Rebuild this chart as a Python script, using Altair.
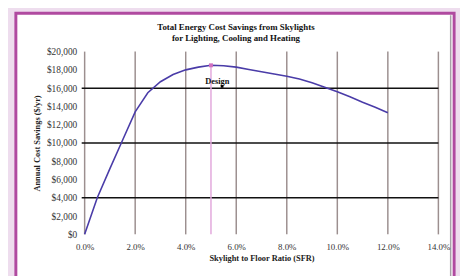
import altair as alt
import pandas as pd

# ---- data ----
sfr = [0.0, 0.005, 0.01, 0.015, 0.02, 0.025, 0.03, 0.035, 0.04, 0.045, 0.05,
       0.055, 0.06, 0.065, 0.07, 0.075, 0.08, 0.085, 0.09, 0.095, 0.10,
       0.105, 0.11, 0.115, 0.12]
savings = [0, 4000, 7200, 10300, 13400, 15500, 16700, 17500, 18000, 18300, 18500,
           18450, 18300, 18050, 17800, 17550, 17300, 17000, 16600, 16100, 15600,
           15050, 14450, 13900, 13300]
x_ticks = [0.0, 0.02, 0.04, 0.06, 0.08, 0.10, 0.12, 0.14]
y_ticks = [0, 2000, 4000, 6000, 8000, 10000, 12000, 14000, 16000, 18000, 20000]
major_y = [4000, 10000, 16000]
design_x = [0.05]
design_y = [18500]
label_text = ["Design"]
label_x = [0.0525]
label_y = [16800]
marker_x = [0.0544]
marker_y = [16200]
title_lines = ["Total Energy Cost Savings from Skylights",
               "for Lighting, Cooling and Heating"]
x_title = "Skylight to Floor Ratio (SFR)"
y_title = "Annual Cost Savings ($/yr)"

W, H = 360, 186
SERIF = "Liberation Serif"

curve = pd.DataFrame({"x": sfr, "y": savings})
xg = pd.DataFrame({"x": x_ticks})
yg = pd.DataFrame({"y": major_y})
des = pd.DataFrame({"x": design_x, "y": design_y})
lab = pd.DataFrame({"x": label_x, "y": label_y, "t": label_text})
mk = pd.DataFrame({"x": marker_x, "y": marker_y})
one = pd.DataFrame({"a": [0]})
t1 = pd.DataFrame({"t": [title_lines[0]]})
t2 = pd.DataFrame({"t": [title_lines[1]]})

xscale = alt.Scale(domain=[0, 0.14], nice=False, zero=False)
yscale = alt.Scale(domain=[0, 20000], nice=False)

xaxis = alt.Axis(values=x_ticks, format=".1%", grid=False, domain=False, ticks=False,
                 labelFont=SERIF, labelFontSize=9, labelColor="#333333", labelPadding=8,
                 labelOverlap=False, labelFlush=False,
                 title=x_title, titleFont=SERIF, titleFontSize=8.5, titleFontWeight="bold",
                 titleColor="#222222", titlePadding=3, zindex=1)
yaxis = alt.Axis(values=y_ticks, format="$,.0f", grid=False, domain=False, ticks=False,
                 labelFont=SERIF, labelFontSize=9.5, labelColor="#333333", labelPadding=8,
                 labelOverlap=False, labelFlush=False,
                 title=y_title, titleFont=SERIF, titleFontSize=8.5, titleFontWeight="bold",
                 titleColor="#222222", titlePadding=5, zindex=1)


def X(field="x:Q"):
    return alt.X(field, scale=xscale, axis=xaxis)


def Y(field="y:Q"):
    return alt.Y(field, scale=yscale, axis=yaxis)


panel = alt.Chart(one).mark_rect(fill="white", stroke="#B04AA0", strokeWidth=3).encode(
    x=alt.value(-70), x2=alt.value(376), y=alt.value(-39), y2=alt.value(240))
shadow = alt.Chart(one).mark_rule(color="#A8A0A8", strokeWidth=1.5).encode(
    x=alt.value(372.5), y=alt.value(-37), y2=alt.value(240))

title1 = alt.Chart(t1).mark_text(font=SERIF, fontSize=9, fontWeight="bold", color="#111111").encode(
    x=alt.value(154), y=alt.value(-25), text="t:N")
title2 = alt.Chart(t2).mark_text(font=SERIF, fontSize=9, fontWeight="bold", color="#111111").encode(
    x=alt.value(154), y=alt.value(-14), text="t:N")

xgrid = alt.Chart(xg).mark_rule(color="#9C8F8F", strokeWidth=1.5).encode(
    x=X(), y=alt.value(0), y2=alt.value(H))
ygrid = alt.Chart(yg).mark_rule(color="#111111", strokeWidth=1.5).encode(
    y=Y(), x=alt.value(-3), x2=alt.value(W))
pink = alt.Chart(des).mark_rule(color="#E2A8DC", strokeWidth=1.5).encode(
    x=X(), y=Y(), y2=alt.value(H))
line = alt.Chart(curve).mark_line(color="#4A3CA8", strokeWidth=1.6).encode(
    x=X(), y=Y())
pt = alt.Chart(des).mark_point(shape="square", filled=True, color="#D070C0", size=16, opacity=1).encode(
    x=X(), y=Y())
marker = alt.Chart(mk).mark_point(shape="square", filled=True, color="black", size=8, opacity=1).encode(
    x=X(), y=Y())
text = alt.Chart(lab).mark_text(font=SERIF, fontSize=8.5, fontWeight="bold", color="#111111").encode(
    x=X(), y=Y(), text="t:N")

chart = alt.layer(panel, shadow, title1, title2, xgrid, ygrid, pink, line, pt, marker, text).properties(
    width=W, height=H,
    padding={"left": 78, "top": 42, "right": 22, "bottom": 40},
    autosize=alt.AutoSizeParams(type="none"),
).configure(background="#EEDDEE").configure_view(stroke=None)

chart.save("out.html", embed_options={"renderer": "svg", "actions": False})
